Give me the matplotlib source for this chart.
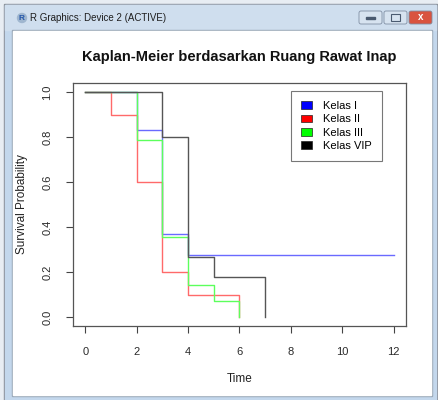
import matplotlib
matplotlib.use("Agg")
import matplotlib.pyplot as plt
from matplotlib.patches import Rectangle, FancyBboxPatch, Patch, Circle

plt.rcParams['font.family'] = ['Liberation Sans', 'DejaVu Sans']

# Kaplan-Meier step data per class (time, survival)
kelas1_t = [0, 2, 3, 4, 12]
kelas1_s = [1.0, 0.833, 0.367, 0.275, 0.275]
kelas2_t = [0, 1, 2, 3, 4, 6]
kelas2_s = [1.0, 0.9, 0.6, 0.2, 0.1, 0.0]
kelas3_t = [0, 2, 3, 4, 5, 6]
kelas3_s = [1.0, 0.786, 0.357, 0.143, 0.071, 0.0]
vip_t = [0, 3, 4, 5, 7]
vip_s = [1.0, 0.8, 0.267, 0.178, 0.0]

labels = ["Kelas I", "Kelas II", "Kelas III", "Kelas VIP"]
line_colors = ["#6a6aff", "#ff6a6a", "#5cff5c", "#555555"]
legend_colors = ["#0000ff", "#ff0000", "#00ff00", "#000000"]
xticks = [0, 2, 4, 6, 8, 10, 12]
yticks = [0.0, 0.2, 0.4, 0.6, 0.8, 1.0]

W, H = 439, 400
fig = plt.figure(figsize=(W / 100, H / 100), dpi=100)

# window chrome drawn in pixel coordinates
bg = fig.add_axes([0, 0, 1, 1], zorder=-1)
bg.set_xlim(0, W)
bg.set_ylim(H, 0)
bg.axis('off')
bg.add_patch(Rectangle((0, 0), W, H, color='#e8edf3'))
bg.add_patch(Rectangle((4, 4), 433, 396, color='#8a9099'))
bg.add_patch(Rectangle((5, 5), 431, 395, color='#c3d7ec'))
bg.add_patch(Rectangle((5, 5), 431, 25, color='#cfdeee'))
bg.add_patch(Rectangle((12, 30), 420, 366, color='#9aa8b8'))
bg.add_patch(Rectangle((13, 31), 418, 364, color='white'))
bg.add_patch(Circle((22, 18), 4.5, color='#9fb6cf'))
bg.text(22, 18.5, "R", color='#2255aa', fontsize=6, fontweight='bold', ha='center', va='center')
bg.text(30, 18, "R Graphics: Device 2 (ACTIVE)", color='#1e1e1e', fontsize=7, va='center')
for x0, col in [(359, '#d7e3f0'), (384, '#d7e3f0'), (409, '#d9533f')]:
    bg.add_patch(FancyBboxPatch((x0, 11), 23, 13, boxstyle='round,pad=0,rounding_size=2',
                                fc=col, ec='#7f8ea3', lw=0.6))
bg.add_patch(Rectangle((366, 17), 9, 2, color='#4a5a70'))
bg.add_patch(Rectangle((391, 14), 9, 7, fill=False, ec='#4a5a70', lw=0.8))
bg.text(420.5, 17.5, "x", color='white', fontsize=7, fontweight='bold', ha='center', va='center')

# plot region
ax = fig.add_axes([73 / W, 1 - 326 / H, (406 - 73) / W, (326 - 83) / H])
series = [(kelas1_t, kelas1_s), (kelas2_t, kelas2_s), (kelas3_t, kelas3_s), (vip_t, vip_s)]
for (t, s), c in zip(series, line_colors):
    ax.step(t, s, where='post', color=c, lw=1.0)

ax.set_xlim(-0.48, 12.48)
ax.set_ylim(-0.04, 1.04)
ax.set_xticks(xticks)
ax.set_yticks(yticks)
ax.set_xticklabels([str(v) for v in xticks])
ax.set_yticklabels(["%.1f" % v for v in yticks], rotation=90, va='center')
ax.tick_params(axis='both', length=5, width=0.8, color='#444444', labelsize=8,
               labelcolor='#2a2a2a')
ax.tick_params(axis='x', pad=10)
ax.tick_params(axis='y', pad=10)
for sp in ax.spines.values():
    sp.set_color('#555555')
    sp.set_linewidth(0.9)

ax.set_xlabel("Time", fontsize=8.5, color='#222222', labelpad=12)
ax.set_ylabel("Survival Probability", fontsize=8.5, color='#222222', labelpad=10)
fig.text(239.5 / W, 1 - 57 / H, "Kaplan-Meier berdasarkan Ruang Rawat Inap",
         ha='center', va='center', fontsize=10.5, fontweight='bold', color='#111111')

handles = [Patch(facecolor=c, edgecolor='#222222', lw=0.5) for c in legend_colors]
leg = ax.legend(handles, labels, loc='upper left',
                bbox_to_anchor=((291 - 73) / (406 - 73), 1 - (91 - 83) / (326 - 83)),
                fontsize=8, frameon=True, fancybox=False, handlelength=1.0,
                handleheight=0.7, handletextpad=1.0, labelspacing=0.3,
                borderpad=0.9, borderaxespad=0)
leg.get_frame().set_edgecolor('#555555')
leg.get_frame().set_linewidth(0.8)

fig.savefig("out.png", dpi=100)
